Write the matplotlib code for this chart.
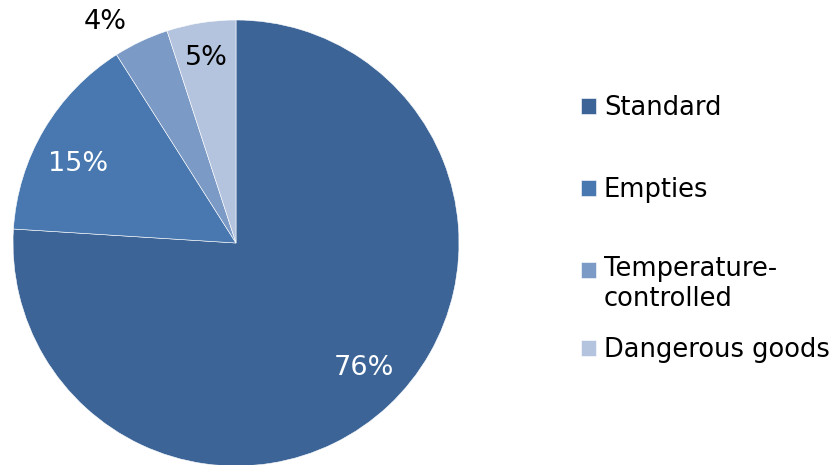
import matplotlib
matplotlib.use("Agg")
import matplotlib.pyplot as plt
from matplotlib.legend_handler import HandlerPatch
from matplotlib.patches import Rectangle
import numpy as np

categories = ["Standard", "Empties", "Temperature-\ncontrolled", "Dangerous goods"]
shares = [76, 15, 4, 5]
colors = ["#3C6496", "#4878AF", "#7C9AC6", "#B4C3DE"]
label_colors = ["white", "white", "black", "black"]

plt.rcParams["font.family"] = ["DejaVu Sans"]
fs = 18.5

fig = plt.figure(figsize=(8.39, 4.65), dpi=100)
ax = fig.add_axes([13 / 839, -1 / 465, 446 / 839, 446 / 465])

wedges, texts, pcts = ax.pie(
    shares, colors=colors, startangle=90, counterclock=False,
    autopct="%d%%", pctdistance=0.8, radius=1,
    textprops={"fontsize": 19.5},
)
for w in wedges:
    w.set_edgecolor("white")
    w.set_linewidth(0.4)

# label distance / angle nudge per slice
label_r = [0.80, 0.79, 1.15, 0.84]
label_dang = [2.5, 4.0, 5.5, 0.0]
for t, c, w, r, da in zip(pcts, label_colors, wedges, label_r, label_dang):
    t.set_color(c)
    mid = np.deg2rad((w.theta1 + w.theta2) / 2 + da)
    t.set_position((r * np.cos(mid), r * np.sin(mid)))

ax.set_xlim(-1, 1)
ax.set_ylim(-1, 1)
ax.set_aspect("equal")
ax.axis("off")


def top_square(legend, orig_handle, xdescent, ydescent, width, height, fontsize):
    return Rectangle((-xdescent, -ydescent + 0.6 * fontsize), width, height)


# legend entries sit at uneven heights, like the original
legend_y = [108, 190, 284, 350]
for i, (w, lab, y) in enumerate(zip(wedges, categories, legend_y)):
    hmap = {w: HandlerPatch(patch_func=top_square)} if "\n" in lab else None
    fig.legend([w], [lab], loc="center left",
               bbox_to_anchor=(576 / 839, 1 - y / 465),
               frameon=False, fontsize=fs, handlelength=0.58,
               handleheight=0.58, handletextpad=0.3, borderaxespad=0,
               borderpad=0.2, handler_map=hmap)

fig.savefig("out.png", dpi=100)
